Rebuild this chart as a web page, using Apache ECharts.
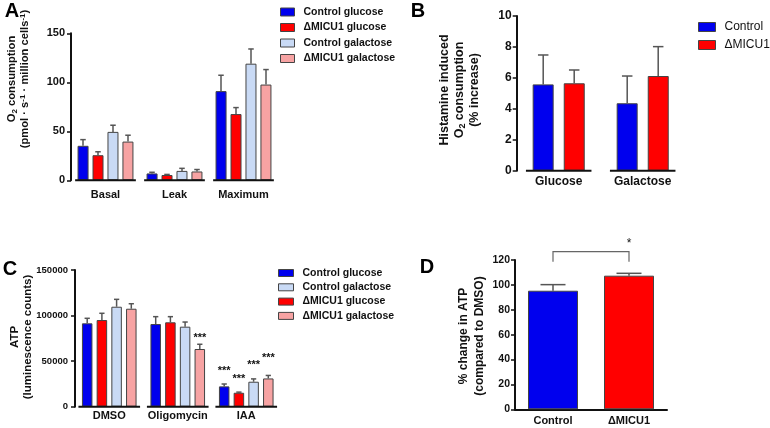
<!DOCTYPE html>
<html lang="en">
<head>
<meta charset="UTF-8">
<title>MICU1 respiration and ATP</title>
<style>
  html, body { margin: 0; padding: 0; background: #fff; }
  #chart { width: 770px; height: 428px; }
</style>
</head>
<body>
<div id="chart"></div>
<script src="https://cdn.jsdelivr.net/npm/echarts@6/dist/echarts.min.js"></script>
<script>
// A: O2 consumption
var catA = ['Basal', 'Leak', 'Maximum'];
var aCtrlGlc = [35.2, 7.0, 91.0];
var aCtrlGlcSem = [6.3, 1.2, 16.2];
var aMicuGlc = [25.6, 5.4, 67.6];
var aMicuGlcSem = [3.5, 0.6, 6.6];
var aCtrlGal = [49.4, 9.6, 119.0];
var aCtrlGalSem = [6.8, 2.6, 15.0];
var aMicuGal = [39.5, 9.0, 97.7];
var aMicuGalSem = [6.5, 2.0, 15.3];

// B: histamine induced O2 consumption
var catB = ['Glucose', 'Galactose'];
var bCtrl = [5.58, 4.36];
var bCtrlSem = [1.90, 1.76];
var bMicu = [5.65, 6.12];
var bMicuSem = [0.86, 1.90];

// C: ATP luminescence
var catC = ['DMSO', 'Oligomycin', 'IAA'];
var cCtrlGlc = [91500, 90700, 22300];
var cCtrlGlcSem = [5500, 8100, 2600];
var cMicuGlc = [95100, 92600, 15300];
var cMicuGlcSem = [7400, 6200, 700];
var cCtrlGal = [109700, 87800, 27400];
var cCtrlGalSem = [8100, 5100, 3100];
var cMicuGal = [107500, 63300, 31000];
var cMicuGalSem = [5500, 5200, 3300];
// height of the *** marks
var cCtrlGlcStar = [0, 0, 41000];
var cMicuGlcStar = [0, 0, 32900];
var cCtrlGalStar = [0, 0, 47600];
var cMicuGalStar = [0, 77600, 56000];

// D: % change in ATP
var catD = ['Control', 'ΔMICU1'];
var dVals = [95.3, 107.4];
var dSem = [4.9, 1.9];
var dBracket = [[0, 1, 118.6, 126.7, 134.7]];

var FONT = '"Liberation Sans", Arial, sans-serif';
var BLUE = '#0000ee', RED = '#ff0000', LBLUE = '#c9daf5', PINK = '#f7a3a3';

var chart = echarts.init(document.getElementById('chart'));

function xAx(gi, cats, fs, margin, line) {
    return {
        type: 'category', gridIndex: gi, data: cats,
        axisLine: { show: line, lineStyle: { color: '#111', width: 2 } },
        axisTick: { show: false },
        axisLabel: { color: '#111', fontWeight: 'bold', fontSize: fs, fontFamily: FONT, margin: margin, interval: 0 }
    };
}

function yAx(gi, max, interval, fs, margin) {
    return {
        type: 'value', gridIndex: gi, min: 0, max: max, interval: interval,
        splitLine: { show: false },
        axisLine: { show: true, lineStyle: { color: '#111', width: 2 } },
        axisTick: { show: true, length: 4, lineStyle: { color: '#111', width: 1.5 } },
        axisLabel: { color: '#111', fontWeight: 'bold', fontSize: fs, fontFamily: FONT, margin: margin,
            formatter: function (v) { return String(v); } }
    };
}

function bar(gi, name, data, color, w, gap) {
    return {
        name: name, type: 'bar', xAxisIndex: gi, yAxisIndex: gi, data: data,
        barWidth: w, barGap: gap, silent: true,
        itemStyle: { color: color, borderColor: '#444', borderWidth: 1 }
    };
}

// error bar (upper half only) plus optional *** text above it
function err(gi, means, sems, stars, n, i, w, g) {
    var rows = means.map(function (m, k) {
        return [k, m, sems[k], stars ? stars[k] : 0];
    });
    return {
        type: 'custom', xAxisIndex: gi, yAxisIndex: gi, data: rows, clip: false, silent: true, z: 3,
        encode: { x: 0, y: 1 },
        renderItem: function (params, api) {
            var k = api.value(0), m = api.value(1), s = api.value(2), st = api.value(3);
            var p0 = api.coord([k, m]);
            var p1 = api.coord([k, m + s]);
            var x = p0[0] - (n * w + (n - 1) * g) / 2 + i * (w + g) + w / 2;
            var cap = w / 4;
            var kids = [
                { type: 'line', shape: { x1: x, y1: p0[1], x2: x, y2: p1[1] }, style: { stroke: '#555', lineWidth: 1.5 } },
                { type: 'line', shape: { x1: x - cap, y1: p1[1], x2: x + cap, y2: p1[1] }, style: { stroke: '#555', lineWidth: 1.5 } }
            ];
            if (st > 0) {
                var ps = api.coord([k, st]);
                kids.push({ type: 'text', x: x, y: ps[1] + 2, style: {
                    text: '***', fill: '#111', font: 'bold 11px ' + FONT,
                    align: 'center', verticalAlign: 'middle', textAlign: 'center', textVerticalAlign: 'middle' } });
            }
            return { type: 'group', children: kids };
        }
    };
}

// broken x axis: one line segment under each group
function base(gi, cats, frac) {
    return {
        type: 'custom', xAxisIndex: gi, yAxisIndex: gi, silent: true, clip: false, z: 4,
        data: cats.map(function (c, k) { return [k, 0]; }),
        renderItem: function (params, api) {
            var p = api.coord([api.value(0), 0]);
            var bw = api.size([1, 0])[0] * frac;
            return { type: 'line', shape: { x1: p[0] - bw / 2, y1: p[1], x2: p[0] + bw / 2, y2: p[1] },
                style: { stroke: '#111', lineWidth: 2 } };
        }
    };
}

function legendBox(names, left, top, iw, ih, gap, fs, weight, lh) {
    return {
        data: names, left: left, top: top, orient: 'vertical', icon: 'rect', padding: 0,
        itemWidth: iw, itemHeight: ih, itemGap: gap, selectedMode: false,
        itemStyle: { borderColor: '#444', borderWidth: 1 },
        textStyle: { fontSize: fs, fontWeight: weight, fontFamily: FONT, color: '#111', lineHeight: lh, padding: [0, 0, 0, 4] }
    };
}

// rotated axis title; rich text gives real sub/superscripts
function title(x, y, text, fs, lh) {
    var small = Math.round(fs * 0.68);
    return {
        type: 'text', x: x, y: y, rotation: Math.PI / 2, silent: true,
        style: {
            text: text, fill: '#111', font: 'bold ' + fs + 'px ' + FONT, lineHeight: lh,
            align: 'center', verticalAlign: 'middle', textAlign: 'center', textVerticalAlign: 'middle',
            rich: {
                n: { fontSize: fs, fontWeight: 'bold', fontFamily: FONT, fill: '#111', color: '#111', lineHeight: lh },
                sub: { fontSize: small, fontWeight: 'bold', fontFamily: FONT, fill: '#111', color: '#111', lineHeight: lh, verticalAlign: 'bottom' },
                sup: { fontSize: small, fontWeight: 'bold', fontFamily: FONT, fill: '#111', color: '#111', lineHeight: lh, verticalAlign: 'top' }
            }
        }
    };
}

function letter(x, y, t) {
    return {
        type: 'text', x: x, y: y, silent: true,
        style: { text: t, fill: '#000', font: 'bold 20px ' + FONT,
            align: 'center', verticalAlign: 'middle', textAlign: 'center', textVerticalAlign: 'middle' }
    };
}

var namesA = ['Control glucose', 'ΔMICU1 glucose', 'Control galactose', 'ΔMICU1 galactose'];
var namesC = ['Control glucose', 'Control galactose', 'ΔMICU1 glucose', 'ΔMICU1 galactose'];

var option = {
    animation: false,
    backgroundColor: '#fff',
    grid: [
        { left: 71, top: 33.3, width: 207, height: 147 },
        { left: 516.7, top: 16, width: 168, height: 154.7 },
        { left: 75, top: 270, width: 205.5, height: 136.7 },
        { left: 515, top: 260, width: 152, height: 149.3 }
    ],
    xAxis: [
        xAx(0, catA, 11, 9, false),
        xAx(1, catB, 12, 5, false),
        xAx(2, catC, 11, 4, false),
        xAx(3, catD, 11, 6, true)
    ],
    yAxis: [
        yAx(0, 150, 50, 11, 6),
        yAx(1, 10, 2, 12, 5),
        yAx(2, 150000, 50000, 9.5, 7),
        yAx(3, 120, 20, 10.5, 5)
    ],
    legend: [
        legendBox(namesA, 280, 6, 14, 8, 3.5, 10.5, 'bold', 12),
        legendBox(['Control', 'ΔMICU1'], 698, 20, 17, 9, 4, 12, 'normal', 14),
        legendBox(namesC, 278, 267, 15, 7, 2.3, 10.5, 'bold', 12)
    ],
    graphic: [
        letter(12, 11, 'A'),
        letter(418, 11, 'B'),
        letter(10, 269, 'C'),
        letter(427, 267, 'D'),
        title(18.5, 79, '{n|O}{sub|2}{n| consumption}\n{n|(pmol · s}{sup|-1}{n| · million cells}{sup|-1}{n|)}', 11.2, 13),
        title(460, 90, '{n|Histamine induced}\n{n|O}{sub|2}{n| consumption}\n{n|(% increase)}', 12.5, 15),
        title(21.5, 337, '{n|ATP}\n{n|(luminescence counts)}', 11.5, 13),
        title(471.5, 336, '{n|% change in ATP}\n{n|(compared to DMSO)}', 12, 16)
    ],
    series: [
        bar(0, namesA[0], aCtrlGlc, BLUE, 11, '36%'),
        bar(0, namesA[1], aMicuGlc, RED, 11, '36%'),
        bar(0, namesA[2], aCtrlGal, LBLUE, 11, '36%'),
        bar(0, namesA[3], aMicuGal, PINK, 11, '36%'),
        err(0, aCtrlGlc, aCtrlGlcSem, null, 4, 0, 11, 4),
        err(0, aMicuGlc, aMicuGlcSem, null, 4, 1, 11, 4),
        err(0, aCtrlGal, aCtrlGalSem, null, 4, 2, 11, 4),
        err(0, aMicuGal, aMicuGalSem, null, 4, 3, 11, 4),
        base(0, catA, 0.88),

        bar(1, 'Control', bCtrl, BLUE, 21, '48%'),
        bar(1, 'ΔMICU1', bMicu, RED, 21, '48%'),
        err(1, bCtrl, bCtrlSem, null, 2, 0, 21, 10),
        err(1, bMicu, bMicuSem, null, 2, 1, 21, 10),
        base(1, catB, 0.78),

        bar(2, 'Control glucose', cCtrlGlc, BLUE, 10.5, '40%'),
        bar(2, 'ΔMICU1 glucose', cMicuGlc, RED, 10.5, '40%'),
        bar(2, 'Control galactose', cCtrlGal, LBLUE, 10.5, '40%'),
        bar(2, 'ΔMICU1 galactose', cMicuGal, PINK, 10.5, '40%'),
        err(2, cCtrlGlc, cCtrlGlcSem, cCtrlGlcStar, 4, 0, 10.5, 4.2),
        err(2, cMicuGlc, cMicuGlcSem, cMicuGlcStar, 4, 1, 10.5, 4.2),
        err(2, cCtrlGal, cCtrlGalSem, cCtrlGalStar, 4, 2, 10.5, 4.2),
        err(2, cMicuGal, cMicuGalSem, cMicuGalStar, 4, 3, 10.5, 4.2),
        base(2, catC, 0.9),

        {
            name: 'D', type: 'bar', xAxisIndex: 3, yAxisIndex: 3, barWidth: 50, silent: true,
            data: dVals.map(function (v, k) {
                return { value: v, itemStyle: { color: k === 0 ? BLUE : RED } };
            }),
            itemStyle: { borderColor: '#444', borderWidth: 1 }
        },
        err(3, dVals, dSem, null, 1, 0, 50, 0),
        {
            type: 'custom', xAxisIndex: 3, yAxisIndex: 3, data: dBracket, clip: false, silent: true,
            encode: { x: 0, y: 2 },
            renderItem: function (params, api) {
                var a = api.value(0), b = api.value(1), lo = api.value(2), hi = api.value(3), sy = api.value(4);
                var l0 = api.coord([a, lo]), l1 = api.coord([a, hi]);
                var r1 = api.coord([b, hi]), r0 = api.coord([b, lo]);
                var s = api.coord([(a + b) / 2, sy]);
                return { type: 'group', children: [
                    { type: 'polyline', shape: { points: [l0, l1, r1, r0] }, style: { stroke: '#666', lineWidth: 1.2, fill: null } },
                    { type: 'text', x: s[0], y: s[1] + 2, style: { text: '*', fill: '#111', font: '12px ' + FONT,
                        align: 'center', verticalAlign: 'middle', textAlign: 'center', textVerticalAlign: 'middle' } }
                ] };
            }
        }
    ]
};

chart.setOption(option);
</script>
</body>
</html>
